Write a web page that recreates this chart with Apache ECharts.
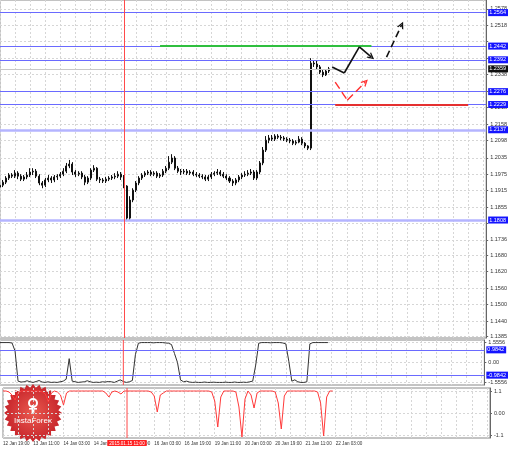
<!DOCTYPE html>
<html>
<head>
<meta charset="utf-8">
<script src="https://cdn.jsdelivr.net/npm/echarts@6/dist/echarts.min.js"></script>
<style>
  html, body { margin: 0; padding: 0; background: #fff; }
  #chart { width: 510px; height: 449px; }
</style>
</head>
<body>
<div id="chart"></div>
<script>
// time axis labels, one every 10 bars
const timeLabels = [
  "12 Jan 19:00", "13 Jan 11:00", "14 Jan 03:00", "14 Jan 19:00", "15 Jan 11:00",
  "16 Jan 03:00", "16 Jan 19:00", "19 Jan 11:00", "20 Jan 03:00", "20 Jan 19:00",
  "21 Jan 11:00", "22 Jan 03:00"
];
const slotCount = 162;

// [open, close, low, high]
const candles = [
  [1.1928, 1.1935, 1.1921, 1.1943], [1.1935, 1.1946, 1.1928, 1.1954], [1.1946, 1.1961, 1.1939, 1.1968],
  [1.1961, 1.1972, 1.1954, 1.1979], [1.1972, 1.1968, 1.1961, 1.1979], [1.1968, 1.1979, 1.1961, 1.1990],
  [1.1979, 1.1968, 1.1957, 1.1986], [1.1968, 1.1957, 1.1950, 1.1975], [1.1957, 1.1965, 1.1950, 1.1972],
  [1.1965, 1.1972, 1.1957, 1.1983], [1.1972, 1.1983, 1.1965, 1.1997], [1.1983, 1.1986, 1.1972, 1.1997],
  [1.1986, 1.1968, 1.1961, 1.1994], [1.1968, 1.1943, 1.1935, 1.1975], [1.1943, 1.1935, 1.1924, 1.1950],
  [1.1935, 1.1954, 1.1928, 1.1961], [1.1954, 1.1961, 1.1946, 1.1972], [1.1961, 1.1954, 1.1943, 1.1968],
  [1.1954, 1.1965, 1.1946, 1.1972], [1.1965, 1.1968, 1.1954, 1.1975], [1.1968, 1.1975, 1.1961, 1.1983],
  [1.1975, 1.1986, 1.1968, 1.1997], [1.1986, 1.2005, 1.1979, 1.2016], [1.2005, 1.2012, 1.1997, 1.2027],
  [1.2012, 1.1983, 1.1972, 1.2019], [1.1983, 1.1975, 1.1965, 1.1990], [1.1975, 1.1979, 1.1968, 1.1986],
  [1.1979, 1.1965, 1.1957, 1.1986], [1.1965, 1.1946, 1.1935, 1.1972], [1.1946, 1.1961, 1.1939, 1.1968],
  [1.1961, 1.1990, 1.1954, 1.1997], [1.1990, 1.1997, 1.1983, 1.2008], [1.1997, 1.1957, 1.1950, 1.2001],
  [1.1957, 1.1954, 1.1943, 1.1965], [1.1954, 1.1950, 1.1943, 1.1961], [1.1950, 1.1957, 1.1943, 1.1965],
  [1.1957, 1.1961, 1.1950, 1.1968], [1.1961, 1.1965, 1.1954, 1.1972], [1.1965, 1.1968, 1.1957, 1.1979],
  [1.1968, 1.1975, 1.1961, 1.1986], [1.1975, 1.1965, 1.1954, 1.1983], [1.1965, 1.1932, 1.1924, 1.1972],
  [1.1932, 1.1815, 1.1804, 1.1935], [1.1815, 1.1881, 1.1808, 1.1895], [1.1881, 1.1917, 1.1873, 1.1924],
  [1.1917, 1.1943, 1.1910, 1.1950], [1.1943, 1.1961, 1.1935, 1.1968], [1.1961, 1.1972, 1.1954, 1.1979],
  [1.1972, 1.1979, 1.1965, 1.1986], [1.1979, 1.1983, 1.1972, 1.1990], [1.1983, 1.1975, 1.1968, 1.1990],
  [1.1975, 1.1979, 1.1968, 1.1986], [1.1979, 1.1968, 1.1961, 1.1986], [1.1968, 1.1972, 1.1961, 1.1979],
  [1.1972, 1.1986, 1.1965, 1.1994], [1.1986, 1.1997, 1.1979, 1.2005], [1.1997, 1.2019, 1.1990, 1.2041],
  [1.2019, 1.2034, 1.2012, 1.2048], [1.2034, 1.1997, 1.1990, 1.2041], [1.1997, 1.1986, 1.1979, 1.2005],
  [1.1986, 1.1983, 1.1972, 1.1994], [1.1983, 1.1986, 1.1975, 1.1994], [1.1986, 1.1979, 1.1972, 1.1994],
  [1.1979, 1.1983, 1.1972, 1.1990], [1.1983, 1.1975, 1.1968, 1.1990], [1.1975, 1.1972, 1.1965, 1.1983],
  [1.1972, 1.1968, 1.1961, 1.1979], [1.1968, 1.1965, 1.1957, 1.1975], [1.1965, 1.1957, 1.1950, 1.1972],
  [1.1957, 1.1965, 1.1950, 1.1972], [1.1965, 1.1975, 1.1957, 1.1983], [1.1975, 1.1979, 1.1968, 1.1986],
  [1.1979, 1.1983, 1.1972, 1.1994], [1.1983, 1.1975, 1.1968, 1.1990], [1.1975, 1.1968, 1.1961, 1.1983],
  [1.1968, 1.1961, 1.1954, 1.1975], [1.1961, 1.1950, 1.1943, 1.1968], [1.1950, 1.1943, 1.1932, 1.1957],
  [1.1943, 1.1954, 1.1935, 1.1961], [1.1954, 1.1965, 1.1946, 1.1972], [1.1965, 1.1972, 1.1957, 1.1979],
  [1.1972, 1.1975, 1.1965, 1.1986], [1.1975, 1.1979, 1.1968, 1.1990], [1.1979, 1.1983, 1.1972, 1.1994],
  [1.1983, 1.1961, 1.1954, 1.1990], [1.1961, 1.1983, 1.1954, 1.1990], [1.1983, 1.2016, 1.1975, 1.2023],
  [1.2016, 1.2063, 1.2008, 1.2074], [1.2063, 1.2099, 1.2056, 1.2114], [1.2099, 1.2107, 1.2088, 1.2118],
  [1.2107, 1.2103, 1.2096, 1.2118], [1.2103, 1.2114, 1.2096, 1.2121], [1.2114, 1.2110, 1.2103, 1.2121],
  [1.2110, 1.2107, 1.2099, 1.2118], [1.2107, 1.2103, 1.2096, 1.2114], [1.2103, 1.2099, 1.2092, 1.2110],
  [1.2099, 1.2096, 1.2088, 1.2107], [1.2096, 1.2088, 1.2081, 1.2103], [1.2088, 1.2092, 1.2081, 1.2099],
  [1.2092, 1.2103, 1.2088, 1.2114], [1.2103, 1.2088, 1.2081, 1.2110], [1.2088, 1.2078, 1.2070, 1.2092],
  [1.2078, 1.2070, 1.2063, 1.2081], [1.2070, 1.2380, 1.2063, 1.2398], [1.2380, 1.2377, 1.2366, 1.2391],
  [1.2377, 1.2366, 1.2358, 1.2388], [1.2366, 1.2347, 1.2340, 1.2373], [1.2347, 1.2337, 1.2329, 1.2355],
  [1.2337, 1.2351, 1.2333, 1.2358], [1.2351, 1.2359, 1.2344, 1.2366]
];

// first oscillator (black line, middle panel)
const oscA = [
  1.55, 1.55, 1.55, 1.55, 1.52, 0.9, -1.45, -1.52, -1.5, -1.42,
  -1.5, -1.55, -1.48, -1.4, -1.52, -1.55, -1.5, -1.55, -1.53, -1.55,
  -1.5, -1.45, -1.3, 0.3, -1.45, -1.5, -1.55, -1.52, -1.5, -1.42,
  -1.5, -1.55, -1.53, -1.55, -1.5, -1.52, -1.48, -1.5, -1.55, -1.45,
  -1.35, -1.48, -1.55, -1.5, -1.4, 0.6, 1.5, 1.55, 1.55, 1.55,
  1.55, 1.53, 1.55, 1.55, 1.55, 1.52, 1.5, 1.4, 0.7, 0.0,
  -1.35, -1.5, -1.45, -1.52, -1.55, -1.53, -1.55, -1.55, -1.52, -1.55,
  -1.55, -1.53, -1.55, -1.55, -1.55, -1.53, -1.55, -1.55, -1.52, -1.55,
  -1.55, -1.53, -1.55, -1.5, -1.45, -0.2, 1.5, 1.55, 1.55, 1.55,
  1.53, 1.55, 1.55, 1.55, 1.52, 1.45, 0.1, -1.45, -1.35, -1.5,
  -1.55, -1.55, -1.5, 1.45, 1.55, 1.55, 1.55, 1.55, 1.55, 1.55
];

// second oscillator (red line, bottom panel)
const oscB = [
  1.1, 1.1, 1.05, 0.9, 0.65, 1.0, 1.1, 1.1, 1.1, 1.1,
  1.1, 1.1, 1.1, 1.05, 0.95, 0.55, 1.0, 1.1, 1.05, 0.9,
  0.4, 1.0, 1.1, 1.1, 1.1, 1.1, 1.1, 1.1, 1.1, 1.1,
  1.1, 1.1, 1.1, 1.1, 1.0, 0.8, 1.05, 1.1, 1.05, 0.95,
  1.1, 1.1, 1.1, 1.1, 1.1, 1.1, 1.1, 1.1, 1.1, 1.05,
  0.85, 0.05, 0.9, 1.0, 1.1, 1.1, 1.1, 1.1, 1.1, 1.1,
  1.1, 1.1, 1.1, 1.1, 1.1, 1.1, 1.1, 1.1, 1.1, 1.05,
  0.6, -0.7, 0.8, 1.1, 1.1, 1.1, 1.1, 1.05, 0.3, -1.2,
  0.7, 1.1, 0.9, 0.25, 1.0, 1.1, 1.1, 1.1, 1.1, 1.1,
  1.05, 0.5, -0.8, 0.85, 1.1, 1.1, 1.1, 1.1, 1.1, 1.1,
  1.1, 1.1, 1.1, 1.1, 1.05, 0.5, -1.15, 0.8, 1.1, 1.1
];

// price grid lines and the labels that stay visible
const priceGrid = [1.1385, 1.1440, 1.1500, 1.1560, 1.1620, 1.1680, 1.1736, 1.1796, 1.1855, 1.1915,
  1.1975, 1.2035, 1.2098, 1.2158, 1.2218, 1.2278, 1.2338, 1.2398, 1.2458, 1.2518, 1.2578];
const priceLabels = [1.1385, 1.1440, 1.1500, 1.1560, 1.1620, 1.1680, 1.1736, 1.1855, 1.1915,
  1.1975, 1.2035, 1.2098, 1.2158, 1.2218, 1.2338, 1.2518, 1.2578];
const priceMin = 1.1378;
const priceMax = 1.2610;

const levels = [1.2564, 1.2442, 1.2392, 1.2276, 1.2229];
const strongLevels = [1.2137, 1.1808];
const lastPrice = 1.2359;
const targetLevel = 1.2442;
const targetSlots = [53, 123];
const stopLevel = 1.2229;
const stopSlots = [111, 155];

// forecast arrows: [bar slot, price]
const bullPath = [[110, 1.2366], [114, 1.2344], [119, 1.2439], [123, 1.2402]];
const bullNext = [[128, 1.2402], [133, 1.2519]];
const bearPath = [[111, 1.2311], [115, 1.2245], [121, 1.2311]];

const oscALevels = [0.9842, -0.9842];
const oscATicks = [1.5556, 0, -1.5556];
const oscAMin = -1.75;
const oscAMax = 1.75;
const oscBTicks = [1.1, 0, -1.1];
const oscBMin = -1.25;
const oscBMax = 1.25;

const cursorSlot = 41;
const cursorLabel = "2015.01.15 11:00";

const FONT = "Liberation Sans";
const arrowHead = "path://M0,10 L5,0 L10,10 L8,10 L5,4 L2,10 Z";
const cursorStyle = { color: "#ff4a4a", width: 1, type: "solid", opacity: 1 };

const categories = [];
for (let i = 0; i < slotCount; i++) categories.push(String(i));

function boxLabel(bg, digits) {
  return {
    show: true,
    position: "end",
    distance: 2,
    formatter: (p) => Number(p.value).toFixed(digits),
    backgroundColor: bg,
    color: "#fff",
    fontSize: 5.5,
    fontFamily: FONT,
    padding: [1, 2, 0, 1],
  };
}

function pathSegments(points, style, withArrow) {
  const segs = [];
  for (let i = 0; i < points.length - 1; i++) {
    const last = withArrow && i === points.length - 2;
    segs.push([
      { coord: points[i], symbol: "none", lineStyle: style },
      { coord: points[i + 1], symbol: last ? arrowHead : "none", symbolSize: [7, 7] },
    ]);
  }
  return segs;
}

// vertical cursor drawn as a two-point line series in a panel
function cursorSeries(idx, lo, hi) {
  return {
    type: "line",
    xAxisIndex: idx,
    yAxisIndex: idx,
    data: [[cursorSlot, lo], [cursorSlot, hi]],
    showSymbol: false,
    silent: true,
    z: 5,
    lineStyle: cursorStyle,
  };
}

function xAxisFor(idx, showLabels) {
  return {
    type: "category",
    gridIndex: idx,
    data: categories,
    boundaryGap: false,
    axisLine: { show: false },
    axisTick: { show: false },
    axisLabel: showLabels
      ? {
          show: true,
          interval: 9,
          showMinLabel: true,
          align: "left",
          margin: 3,
          fontSize: 4.6,
          fontFamily: FONT,
          color: "#333",
          formatter: (v, i) => timeLabels[i / 10] || "",
        }
      : { show: false },
    splitLine: { show: true, interval: 4, lineStyle: { color: "#d6d6d6", type: [2, 2] } },
  };
}

const sideAxis = {
  position: "right",
  axisLine: { show: true, lineStyle: { color: "#666" } },
  axisTick: { show: true, length: 2, lineStyle: { color: "#666" } },
};

const chart = echarts.init(document.getElementById("chart"));

const levelLines = levels.map((v) => ({
  yAxis: v,
  lineStyle: { color: "#6a6aff", width: 1, type: "solid" },
  label: boxLabel("#1414ff", 4),
}));
const strongLines = strongLevels.map((v) => ({
  yAxis: v,
  lineStyle: { color: "#b4b4ff", width: 2.5, type: "solid" },
  label: boxLabel("#1414ff", 4),
}));

const starPoints = [];
for (let i = 0; i < 56; i++) {
  const a = (i / 56) * Math.PI * 2;
  const r = i % 2 === 0 ? 29 : 25.5;
  starPoints.push([29 + r * Math.cos(a), 29 + r * Math.sin(a)]);
}

chart.setOption({
  animation: false,
  backgroundColor: "#fff",
  grid: [
    { left: 0, right: 20, top: 0, height: 338, show: true, borderColor: "#888", borderWidth: 1 },
    { left: 0, right: 20, top: 340, height: 45, show: true, borderColor: "#888", borderWidth: 1 },
    { left: 0, right: 20, top: 388, height: 50, show: true, borderColor: "#888", borderWidth: 1 },
  ],
  xAxis: [xAxisFor(0, false), xAxisFor(1, false), xAxisFor(2, true)],
  yAxis: [
    {
      ...sideAxis,
      type: "value",
      gridIndex: 0,
      min: priceMin,
      max: priceMax,
      axisTick: { ...sideAxis.axisTick, customValues: priceGrid },
      axisLabel: {
        customValues: priceLabels,
        formatter: (v) => v.toFixed(4),
        fontSize: 5.5,
        fontFamily: FONT,
        color: "#333",
        margin: 4,
      },
      splitLine: { show: true, lineStyle: { color: "#d6d6d6", type: [2, 2] } },
    },
    {
      ...sideAxis,
      type: "value",
      gridIndex: 1,
      min: oscAMin,
      max: oscAMax,
      axisTick: { ...sideAxis.axisTick, customValues: oscATicks },
      axisLabel: {
        customValues: oscATicks,
        formatter: (v) => (v === 0 ? "0.00" : v.toFixed(4)),
        fontSize: 5.5,
        fontFamily: FONT,
        color: "#333",
        margin: 4,
      },
      splitLine: { show: true, lineStyle: { color: "#d6d6d6", type: [2, 2] } },
    },
    {
      ...sideAxis,
      type: "value",
      gridIndex: 2,
      min: oscBMin,
      max: oscBMax,
      axisTick: { ...sideAxis.axisTick, customValues: oscBTicks },
      axisLabel: {
        customValues: oscBTicks,
        formatter: (v) => (v === 0 ? "0.00" : String(v)),
        fontSize: 5.5,
        fontFamily: FONT,
        color: "#333",
        margin: 4,
      },
      splitLine: { show: true, lineStyle: { color: "#d6d6d6", type: [2, 2] } },
    },
  ],
  series: [
    {
      type: "candlestick",
      xAxisIndex: 0,
      yAxisIndex: 0,
      data: candles,
      barMaxWidth: 2,
      silent: true,
      itemStyle: {
        color: "#fff",
        color0: "#000",
        borderColor: "#111",
        borderColor0: "#111",
        borderWidth: 1,
      },
      markLine: {
        silent: true,
        precision: 4,
        symbol: ["none", "none"],
        label: { show: false },
        data: [
          ...strongLines,
          ...levelLines,
          {
            yAxis: lastPrice,
            lineStyle: { color: "#c8c8c8", width: 1, type: "solid" },
            label: boxLabel("#111", 4),
          },
          [
            { coord: [targetSlots[0], targetLevel], lineStyle: { color: "#2fbf3f", width: 2, type: "solid" } },
            { coord: [targetSlots[1], targetLevel] },
          ],
          [
            { coord: [stopSlots[0], stopLevel], lineStyle: { color: "#e53030", width: 2, type: "solid" } },
            { coord: [stopSlots[1], stopLevel] },
          ],
          [
            { coord: [cursorSlot, priceMin], lineStyle: cursorStyle },
            { coord: [cursorSlot, priceMax] },
          ],
          ...pathSegments(bullPath, { color: "#111", width: 1.6, type: "solid" }, true),
          ...pathSegments(bullNext, { color: "#111", width: 1.6, type: [7, 4] }, true),
          ...pathSegments(bearPath, { color: "#ff3030", width: 1.4, type: [8, 4] }, true),
        ],
      },
    },
    {
      type: "line",
      xAxisIndex: 1,
      yAxisIndex: 1,
      data: oscA,
      showSymbol: false,
      silent: true,
      lineStyle: { color: "#333", width: 1 },
      markLine: {
        silent: true,
        precision: 4,
        symbol: ["none", "none"],
        label: { show: false },
        data: oscALevels.map((v) => ({
          yAxis: v,
          lineStyle: { color: "#6a6aff", width: 1, type: "solid" },
          label: boxLabel("#1414ff", 4),
        })),
      },
    },
    cursorSeries(1, oscAMin, oscAMax),
    {
      type: "line",
      xAxisIndex: 2,
      yAxisIndex: 2,
      data: oscB,
      showSymbol: false,
      silent: true,
      lineStyle: { color: "#ff3a3a", width: 1 },
    },
    {
      ...cursorSeries(2, oscBMin, oscBMax),
      markPoint: {
        silent: true,
        symbol: "rect",
        symbolSize: 0,
        data: [
          {
            coord: [cursorSlot, oscBMin],
            label: {
              show: true,
              position: "bottom",
              distance: 2,
              formatter: cursorLabel,
              backgroundColor: "#ff2020",
              color: "#fff",
              fontSize: 4.6,
              fontFamily: FONT,
              padding: [1, 2, 0, 2],
            },
          },
        ],
      },
    },
  ],
  graphic: [
    {
      type: "group",
      left: 4,
      top: 384,
      z: 100,
      children: [
        {
          type: "polygon",
          shape: { points: starPoints },
          style: {
            fill: {
              type: "radial", x: 0.5, y: 0.5, r: 0.5,
              colorStops: [
                { offset: 0, color: "#ea5a50" },
                { offset: 1, color: "#c7252b" },
              ],
            },
          },
        },
        { type: "circle", shape: { cx: 29, cy: 19, r: 4 }, style: { fill: "none", stroke: "#fff", lineWidth: 2 } },
        { type: "rect", shape: { x: 27.6, y: 21, width: 2.8, height: 8 }, style: { fill: "#fff" } },
        { type: "rect", shape: { x: 25, y: 24, width: 8, height: 1.6 }, style: { fill: "#fff" } },
        {
          type: "text",
          style: {
            text: "InstaForex",
            x: 29,
            y: 33,
            align: "center",
            fill: "#fff",
            fontSize: 8,
            fontFamily: FONT,
          },
        },
      ],
    },
  ],
});
</script>
</body>
</html>
